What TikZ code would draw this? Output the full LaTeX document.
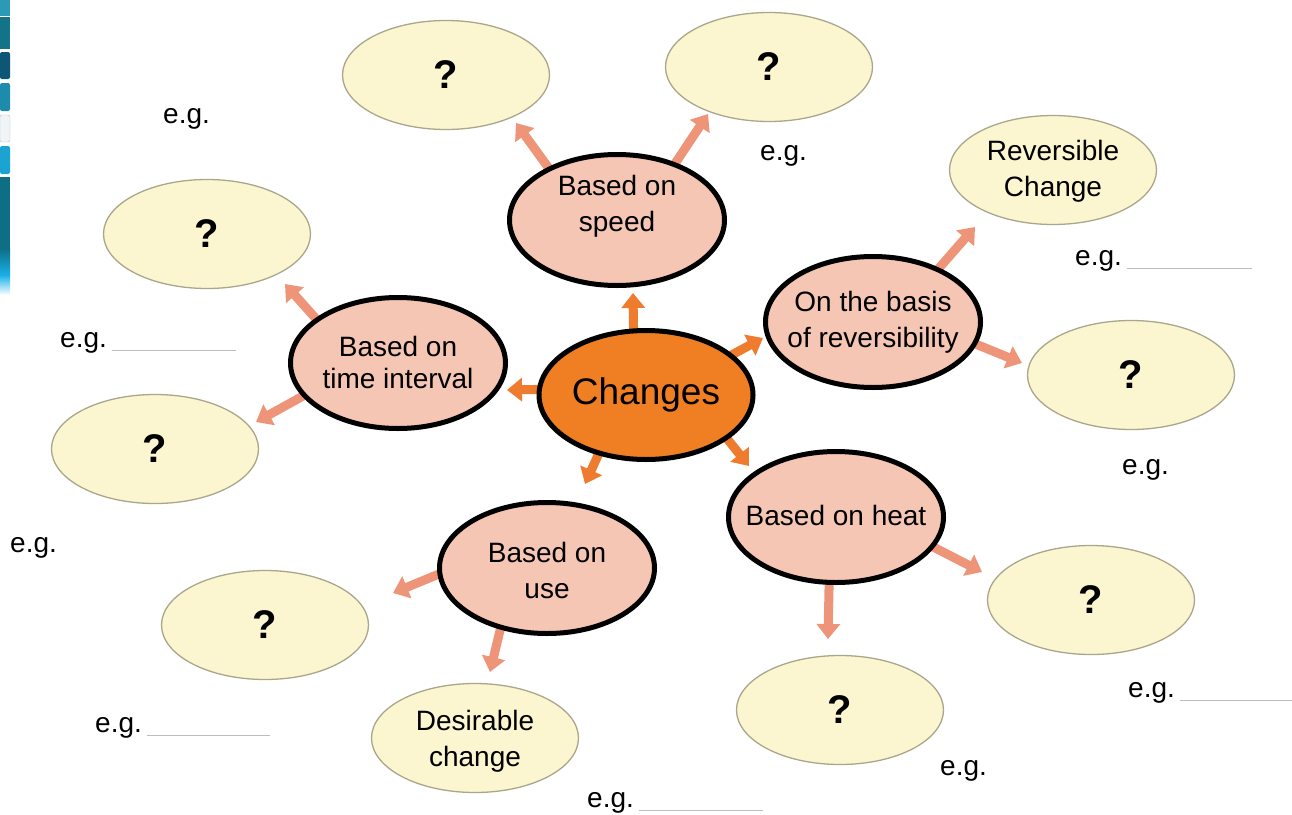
\documentclass[tikz,border=0pt]{standalone}
\usepackage{fontspec}
\setmainfont{Liberation Sans}
\usetikzlibrary{shapes.geometric,arrows.meta,backgrounds}
\definecolor{yel}{HTML}{FBF6CF}
\definecolor{yelbd}{HTML}{A9A68C}
\definecolor{pinkf}{HTML}{F5C6B3}
\definecolor{orng}{HTML}{EF7F22}
\definecolor{arrs}{HTML}{EE9579}
\definecolor{arro}{HTML}{EE7B2E}
\definecolor{uline}{HTML}{BDBDBD}
\definecolor{bl1}{HTML}{2A9AB5}
\definecolor{bl2}{HTML}{137488}
\definecolor{bl3}{HTML}{0D5675}
\definecolor{bl4}{HTML}{1D8CAC}
\definecolor{bl5}{HTML}{EEF4F7}
\definecolor{bl6}{HTML}{1BA3D2}
\definecolor{bl7}{HTML}{0D6E84}
\definecolor{bl8}{HTML}{18B0E8}
\newcommand{\egline}[1]{\textcolor{uline}{\rule[-4pt]{#1pt}{1.3pt}}}
\begin{document}
\begin{tikzpicture}[x=1pt,y=-1pt,
 cat/.style={ellipse,draw=black,line width=5pt,fill=pinkf,minimum width=215pt,minimum height=131pt,inner sep=0pt,outer sep=0pt},
 mainc/.style={cat,fill=orng,minimum width=214pt,minimum height=129pt},
 ans/.style={ellipse,draw=yelbd,line width=1.3pt,fill=yel,minimum width=207pt,minimum height=109pt,inner sep=0pt,outer sep=0pt},
 q/.style={ans,font=\fontsize{40}{40}\selectfont\bfseries},
 lbl/.style={align=center,inner sep=0pt,font=\fontsize{28}{36}\selectfont},
 eg/.style={anchor=base west,inner sep=0pt,font=\fontsize{28}{34}\selectfont},
 sarr/.style={draw=arrs,line width=9pt,-{Triangle[width=23pt,length=15pt]}},
 oarr/.style={sarr,draw=arro},
]
\useasboundingbox (0,0) rectangle (1292,814);
% left page strip
\fill[bl1] (0,0) rectangle (10,16);
\fill[bl2] (0,17) rectangle (10,49);
\fill[bl3,rounded corners=2pt] (0,52) rectangle (10,79);
\fill[bl4,rounded corners=2pt] (0,83) rectangle (10,111);
\filldraw[fill=bl5,draw=gray!50,rounded corners=2pt] (0,115) rectangle (10,142);
\fill[bl6,rounded corners=2pt] (0,146) rectangle (10,174);
\fill[bl7] (0,177) rectangle (10,248);
\shade[top color=bl7,bottom color=bl8] (0,248) rectangle (10,275);
\shade[top color=bl8,bottom color=white] (0,275) rectangle (10,295);

% category ellipses
\node[mainc] (chg) at (646,395) {};
\node[lbl,font=\fontsize{37}{40}\selectfont] (chgt) at (chg) {Changes};
\node[cat] (spd) at (617,220) {};
\node[lbl] (spdt) at (617,206) {Based on\\speed};
\node[cat] (rev) at (873,322) {};
\node[lbl] (revt) at (rev) {On the basis\\of reversibility};
\node[cat] (tim) at (398,363) {};
\node[lbl,font=\fontsize{28}{32}\selectfont] (timt) at (398,362) {Based on\\time interval};
\node[cat] (heat) at (836,517) {};
\node[lbl] (heatt) at (836,515) {Based on heat};
\node[cat] (use) at (547,568) {};
\node[lbl] (uset) at (547,570) {Based on\\use};

% answer ellipses
\node[q] (y1) at (446,75) {?};
\node[q] (y2) at (769,67) {?};
\node[ans] (y3) at (1053,170) {};
\node[lbl] (y3t) at (1053,171) {Reversible\\Change};
\node[q] (y4) at (1131,375) {?};
\node[q] (y5) at (207,234) {?};
\node[q] (y6) at (155,449) {?};
\node[q] (y7) at (1091,600) {?};
\node[q] (y8) at (840,710) {?};
\node[q] (y9) at (265,625) {?};
\node[ans] (y10) at (475,738) {};
\node[lbl] (y10t) at (475,741) {Desirable\\change};

% arrow tips (free ends)
\coordinate (t1) at (633,293);
\coordinate (t2) at (763,338);
\coordinate (t3) at (507,390);
\coordinate (t4) at (749,466);
\coordinate (t5) at (585,484);
\coordinate (t6) at (516,123);
\coordinate (t7) at (708,114);
\coordinate (t8) at (975,227);
\coordinate (t9) at (1022,363);
\coordinate (t10) at (285,284);
\coordinate (t11) at (256,422);
\coordinate (t12) at (982,572);
\coordinate (t13) at (828,639);
\coordinate (t14) at (393,593);
\coordinate (t15) at (490,672);

\begin{scope}[on background layer]
\draw[oarr] (chg.101) -- (t1);
\draw[oarr] (chg.25) -- (t2);
\draw[oarr] (chg.177) -- (t3);
\draw[oarr] (chg.-28) -- (t4);
\draw[oarr] (chg.-129) -- (t5);
\draw[sarr] (spd.143) -- (t6);
\draw[sarr] (spd.44) -- (t7);
\draw[sarr] (rev.39) -- (t8);
\draw[sarr] (rev.-12) -- (t9);
\draw[sarr] (tim.152) -- (t10);
\draw[sarr] (tim.-161) -- (t11);
\draw[sarr] (heat.-17) -- (t12);
\draw[sarr] (heat.-96) -- (t13);
\draw[sarr] (use.183) -- (t14);
\draw[sarr] (use.-128) -- (t15);
\end{scope}

% e.g. texts
\node[eg] (e1) at (163,123) {e.g.};
\node[eg] (e2) at (760,160) {e.g.};
\node[eg] (e3) at (1075,265) {e.g.\,\egline{125}};
\node[eg] (e4) at (60,347) {e.g.\,\egline{124}};
\node[eg] (e5) at (1122,474) {e.g.};
\node[eg] (e6) at (10,552) {e.g.};
\node[eg] (e7) at (1128,697) {e.g.\,\egline{114}};
\node[eg] (e8) at (95,732) {e.g.\,\egline{123}};
\node[eg] (e9) at (940,775) {e.g.};
\node[eg] (e10) at (587,807) {e.g.\,\egline{124}};
\end{tikzpicture}
\end{document}
